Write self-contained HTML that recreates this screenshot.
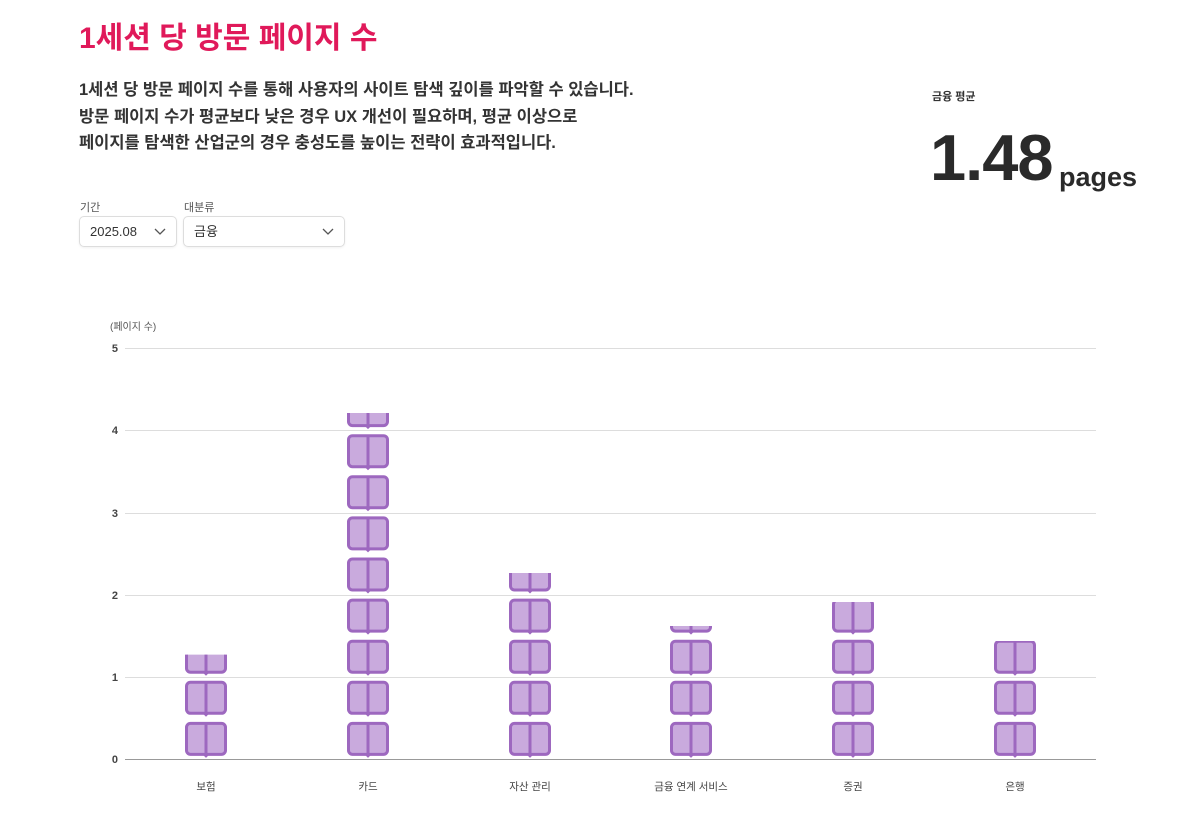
<!DOCTYPE html>
<html><head><meta charset="utf-8"><style>
body{margin:0;width:1200px;height:831px;background:#fff;font-family:"Liberation Sans","Noto Sans CJK KR",sans-serif;color:#333;position:relative;overflow:hidden}
.a{position:absolute;white-space:nowrap}
.sel{position:absolute;top:216px;height:31px;border:1px solid #ddd;border-radius:5px;box-sizing:border-box;font-size:13px;color:#333;padding-left:10px;line-height:30px;box-shadow:0 1px 2px rgba(0,0,0,.06)}
</style></head><body>
<div class="a" style="left:79px;top:13px;font-size:30px;font-weight:bold;color:#e0195a">1세션 당 방문 페이지 수</div>
<div class="a" style="left:79px;top:77px;font-size:16.5px;font-weight:bold;color:#333;line-height:26.5px">1세션 당 방문 페이지 수를 통해 사용자의 사이트 탐색 깊이를 파악할 수 있습니다.<br>방문 페이지 수가 평균보다 낮은 경우 UX 개선이 필요하며, 평균 이상으로<br>페이지를 탐색한 산업군의 경우 충성도를 높이는 전략이 효과적입니다.</div>
<div class="a" style="left:932px;top:88px;font-size:11px;font-weight:bold;color:#333">금융 평균</div>
<div class="a" style="left:930px;top:120px;font-size:65px;font-weight:bold;color:#2a2a2a;letter-spacing:-1px">1.48</div>
<div class="a" style="left:1059px;top:162px;font-size:27px;font-weight:bold;color:#2a2a2a">pages</div>
<div class="a" style="left:80px;top:199px;font-size:11px;color:#555">기간</div>
<div class="a" style="left:184px;top:199px;font-size:11px;color:#555">대분류</div>
<div class="sel" style="left:79px;width:98px">2025.08<svg style="position:absolute;right:10px;top:11px" width="12" height="8"><path d="M1 1l5 5 5-5" fill="none" stroke="#555" stroke-width="1.3"/></svg></div>
<div class="sel" style="left:183px;width:162px">금융<svg style="position:absolute;right:10px;top:11px" width="12" height="8"><path d="M1 1l5 5 5-5" fill="none" stroke="#555" stroke-width="1.3"/></svg></div>
<svg class="a" style="left:0;top:0" width="1200" height="831" font-family="Liberation Sans, Noto Sans CJK KR, sans-serif">
<defs>
<symbol id="ic" viewBox="0 0 42 41" width="42" height="41" overflow="visible">
<rect x="1.5" y="1.5" width="39" height="31" rx="4" fill="#c9aadd" stroke="#9d68bf" stroke-width="3"/>
<line x1="21" y1="1.5" x2="21" y2="33" stroke="#9d68bf" stroke-width="3"/>
<path d="M17 32 L21 36 L25 32 Z" fill="#9d68bf"/>
</symbol>
<clipPath id="c0"><rect x="0" y="654.6" width="1200" height="200"/></clipPath>
<clipPath id="c1"><rect x="0" y="413" width="1200" height="400"/></clipPath>
<clipPath id="c2"><rect x="0" y="573" width="1200" height="300"/></clipPath>
<clipPath id="c3"><rect x="0" y="626" width="1200" height="300"/></clipPath>
<clipPath id="c4"><rect x="0" y="602" width="1200" height="300"/></clipPath>
<clipPath id="c5"><rect x="0" y="641" width="1200" height="300"/></clipPath>
</defs>
<g stroke="#ddd" stroke-width="1">
<line x1="125" y1="348.5" x2="1096" y2="348.5"/><line x1="125" y1="430.5" x2="1096" y2="430.5"/><line x1="125" y1="513.5" x2="1096" y2="513.5"/><line x1="125" y1="595.5" x2="1096" y2="595.5"/><line x1="125" y1="677.5" x2="1096" y2="677.5"/>
</g>
<line x1="125" y1="759.5" x2="1096" y2="759.5" stroke="#999"/>
<g font-size="11" fill="#444" font-weight="bold" text-anchor="end">
<text x="118" y="352">5</text><text x="118" y="434">4</text><text x="118" y="517">3</text><text x="118" y="599">2</text><text x="118" y="681">1</text><text x="118" y="763">0</text>
</g>
<text x="110" y="330" font-size="10" fill="#555">(페이지 수)</text>
<g font-size="10.5" fill="#444" text-anchor="middle">
<text x="206" y="790">보험</text><text x="368" y="790">카드</text><text x="530" y="790">자산 관리</text><text x="691" y="790">금융 연계 서비스</text><text x="853" y="790">증권</text><text x="1015" y="790">은행</text>
</g>
<g id="cols"></g>
</svg>
<script>
var cx=[206,368,530,691,853,1015],cnt=[3,9,5,4,4,3],g=document.getElementById('cols'),ns="http://www.w3.org/2000/svg";
for(var c=0;c<6;c++){var gg=document.createElementNS(ns,'g');gg.setAttribute('clip-path','url(#c'+c+')');
for(var i=0;i<cnt[c];i++){var u=document.createElementNS(ns,'use');u.setAttribute('href','#ic');u.setAttribute('x',cx[c]-21);u.setAttribute('y',759-41.1*(i+1)+4);gg.appendChild(u);}
g.appendChild(gg);}
</script>
</body></html>
